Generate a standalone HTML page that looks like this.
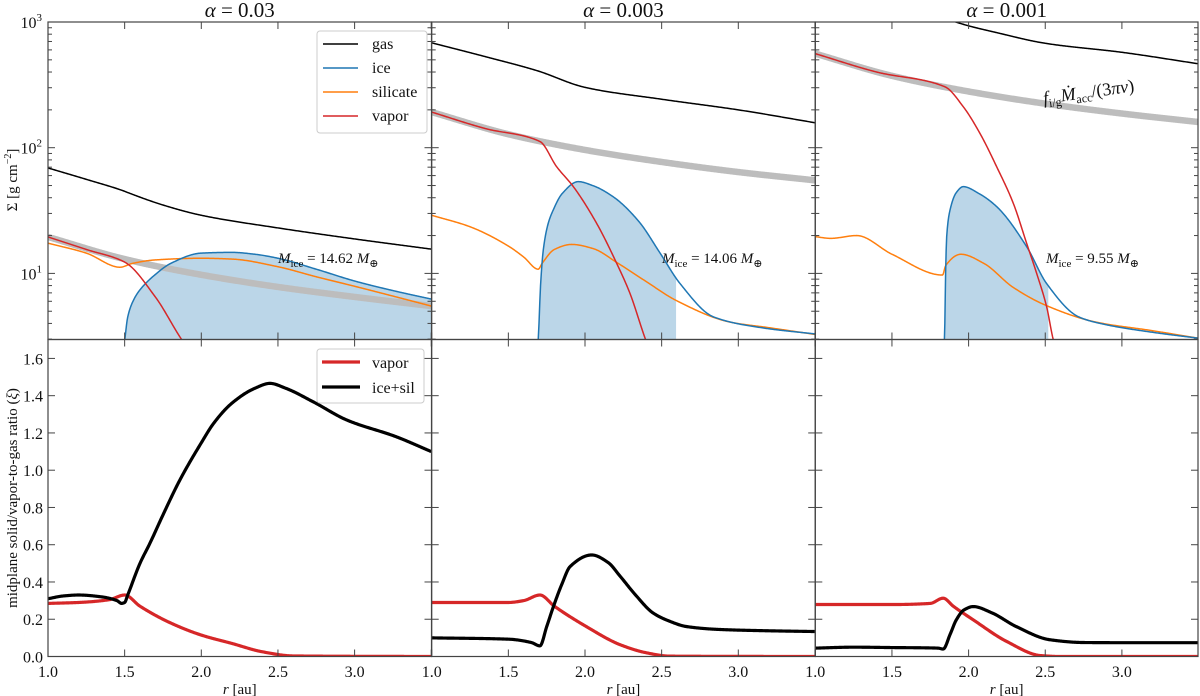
<!DOCTYPE html>
<html><head><meta charset="utf-8"><style>
html,body{margin:0;padding:0;background:#fff;}
svg{display:block;}
svg text{font-family:"Liberation Serif","DejaVu Serif",serif;}
</style></head><body>
<svg id="fig" width="1200" height="696" viewBox="0 0 1200 696" xmlns="http://www.w3.org/2000/svg"></svg>
<script>
// ---------- data ----------
const panelTitles = ["0.03","0.003","0.001"];
const iceMassLabels = ["14.62","14.06","9.55"];
const xTickVals = [1.0,1.5,2.0,2.5,3.0,3.5];
const xTickLabels = ["1.0","1.5","2.0","2.5","3.0"];
const yTickVals = [0,0.2,0.4,0.6,0.8,1.0,1.2,1.4,1.6];
const yTickLabels = ["0.0","0.2","0.4","0.6","0.8","1.0","1.2","1.4","1.6"];

const gasR1 = [1,1.25,1.5,1.52,1.75,2,2.5,3,3.5];
const gasV1 = [69,56,45,44,35,29,23,18.8,15.6];
const gasR2 = [1,1.35,1.707,1.72,2,2.5,3,3.5];
const gasV2 = [683,530,403,398,302,243,200,158];
const gasR3 = [1.8,1.917,2.2,2.5,3.0,3.5];
const gasV3 = [1150,1000,814,677,574,465];

const grayR = [1,1.5,2,2.5,3,3.5];
const grayV1 = [19.5,13,9.75,7.8,6.5,5.5];
const grayV2 = [192,128,96,77,64,55];
const grayV3 = [560,373,280,224,187,160];

const vapR1 = [1,1.25,1.5,1.7,1.87,2.0];
const vapV1 = [19.5,15.5,12.3,6.5,3.0,1.8];
const vapR2 = [1,1.35,1.706,1.815,1.924,2.076,2.207,2.294,2.392,2.45];
const vapV2 = [192,142,112,70.6,49,25,12,6.9,3.05,2.0];
const vapR3 = [1,1.4,1.846,1.965,2.074,2.183,2.292,2.379,2.444,2.509,2.553,2.6];
const vapV3 = [560,400,305,212,130,70.6,36,17.3,10,5.43,2.95,2.0];

const iceR1 = [1.5,1.52,1.56,1.6,1.7,1.8,2.0,2.2,2.35,2.5,2.75,3.0,3.25,3.5];
const iceV1 = [2.9,4.5,6.2,7.4,9.8,12.0,14.5,14.7,14.2,13.2,10.8,8.7,7.3,6.25];
const iceR2 = [1.689,1.695,1.71,1.728,1.76,1.793,1.85,1.956,2.05,2.184,2.35,2.49,2.62,2.84,3.17,3.5];
const iceV2 = [2.5,3,8,15.4,25,32,43,53.7,50,40.7,26,14.5,8.3,4.5,3.67,3.3];
const iceR3 = [1.84,1.845,1.85,1.857,1.879,1.92,1.965,2.07,2.183,2.379,2.509,2.72,2.9,3.2,3.5];
const iceV3 = [2.5,4,10,19.6,32,44,49,43,34,16.3,8.3,4.5,3.9,3.4,3.05];
const iceFillEnd = [3.5,2.594,2.52];

const silR1 = [1,1.25,1.47,1.55,1.7,2.0,2.2,2.5,2.75,3.0,3.25,3.5];
const silV1 = [17.4,14.5,11.2,12.0,12.8,13.2,13.0,11.3,9.4,7.9,6.6,5.5];
const silR2 = [1,1.25,1.5,1.6,1.695,1.72,1.8,1.913,2.05,2.217,2.4,2.594,2.946,3.2,3.5];
const silV2 = [29,23.5,16.5,13.5,10.8,12,15.5,17,15.8,12,8.6,6.1,4.1,3.7,3.27];
const silR3 = [1,1.1,1.27,1.5,1.83,1.85,1.95,2.1,2.287,2.5,2.83,3.2,3.5];
const silV3 = [19.6,19,20,14.2,9.7,11.5,14.2,12,7.8,5.6,4.1,3.5,3.05];

const xiVapR1 = [1,1.2,1.4,1.5,1.6,1.8,2.0,2.2,2.4,2.6,3.5];
const xiVapV1 = [0.285,0.29,0.305,0.33,0.27,0.18,0.115,0.07,0.025,0.003,0];
const xiSolR1 = [1,1.1,1.2,1.35,1.45,1.48,1.5,1.52,1.6,1.665,1.75,1.86,2.0,2.08,2.2,2.35,2.448,2.55,2.73,2.95,3.27,3.5];
const xiSolV1 = [0.31,0.325,0.33,0.32,0.30,0.285,0.29,0.33,0.50,0.608,0.76,0.947,1.147,1.251,1.36,1.44,1.466,1.44,1.367,1.269,1.18,1.10];
const xiVapR2 = [1,1.5,1.6,1.706,1.8,2.01,2.23,2.4,2.55,3.5];
const xiVapV2 = [0.29,0.29,0.30,0.33,0.27,0.16,0.063,0.02,0.002,0];
const xiSolR2 = [1,1.5,1.65,1.706,1.75,1.794,1.85,1.903,2.044,2.15,2.23,2.33,2.445,2.55,2.66,2.88,3.2,3.5];
const xiSolV2 = [0.10,0.093,0.075,0.057,0.16,0.268,0.39,0.483,0.545,0.505,0.43,0.33,0.233,0.19,0.161,0.145,0.138,0.134];
const xiVapR3 = [1,1.5,1.75,1.834,1.9,2.03,2.25,2.47,2.6,3.5];
const xiVapV3 = [0.279,0.279,0.285,0.313,0.27,0.197,0.08,0.005,0,0];
const xiSolR3 = [1,1.25,1.5,1.8,1.834,1.88,1.92,1.97,2.03,2.15,2.31,2.53,2.75,3.1,3.5];
const xiSolV3 = [0.045,0.05,0.048,0.045,0.04,0.12,0.197,0.25,0.268,0.235,0.161,0.09,0.075,0.074,0.074];

// ---------- layout ----------
const NS = "http://www.w3.org/2000/svg";
const svg = document.getElementById('fig');
const panelX = [48, 431.7, 815.3];
const PW = 383.5, PW3 = 382.7;
const topY0 = 22, topY1 = 339.5, botY1 = 656.5;
const DEC = 125.7;
function sx(p, r){ return panelX[p] + (r-1)*153.3; }
function syLog(v){ return topY0 + (3 - Math.log10(v))*DEC; }
function syLin(v){ return botY1 - v*186.3; }

function el(tag, attrs, parent){
  const e = document.createElementNS(NS, tag);
  for (const k in attrs) e.setAttribute(k, attrs[k]);
  (parent||svg).appendChild(e);
  return e;
}
function monotone(xs, ys){
  const n = xs.length, d = [], m = new Array(n);
  for (let i=0;i<n-1;i++) d.push((ys[i+1]-ys[i])/(xs[i+1]-xs[i]));
  m[0]=d[0]; m[n-1]=d[n-2];
  for (let i=1;i<n-1;i++){
    if (d[i-1]*d[i] <= 0) m[i]=0;
    else { const w1=2*(xs[i+1]-xs[i])+(xs[i]-xs[i-1]), w2=(xs[i+1]-xs[i])+2*(xs[i]-xs[i-1]); m[i]=(w1+w2)/(w1/d[i-1]+w2/d[i]); }
  }
  const out=[];
  for (let i=0;i<n-1;i++){
    const h=xs[i+1]-xs[i], N=Math.max(2,Math.ceil(h*200));
    for (let k=(i===0?0:1);k<=N;k++){
      const t=k/N, t2=t*t, t3=t2*t;
      const y=(2*t3-3*t2+1)*ys[i]+(t3-2*t2+t)*h*m[i]+(-2*t3+3*t2)*ys[i+1]+(t3-t2)*h*m[i+1];
      out.push([xs[i]+t*h,y]);
    }
  }
  return out;
}
function curveLog(p, rs, vs){
  return monotone(rs, vs.map(v=>Math.log10(v))).map(([r,l])=>[sx(p,r), topY0+(3-l)*DEC]);
}
function curveLin(p, rs, vs){
  return monotone(rs, vs).map(([r,v])=>[sx(p,r), syLin(v)]);
}
function polyD(pts){ return 'M'+pts.map(q=>q[0].toFixed(2)+','+q[1].toFixed(2)).join('L'); }

const defs = el('defs', {});
for (let p=0;p<3;p++){
  const w = p===2?PW3:PW;
  const c1 = el('clipPath',{id:'ct'+p},defs); el('rect',{x:panelX[p],y:topY0,width:w,height:topY1-topY0},c1);
  const c2 = el('clipPath',{id:'cb'+p},defs); el('rect',{x:panelX[p],y:topY1,width:w,height:botY1-topY1},c2);
  const c3 = el('clipPath',{id:'cf'+p},defs); el('rect',{x:panelX[p],y:topY0,width:sx(p,iceFillEnd[p])-panelX[p],height:topY1-topY0},c3);
}

const gasR=[gasR1,gasR2,gasR3], gasV=[gasV1,gasV2,gasV3];
const grayV=[grayV1,grayV2,grayV3];
const vapR=[vapR1,vapR2,vapR3], vapV=[vapV1,vapV2,vapV3];
const iceR=[iceR1,iceR2,iceR3], iceV=[iceV1,iceV2,iceV3];
const silR=[silR1,silR2,silR3], silV=[silV1,silV2,silV3];
const xvR=[xiVapR1,xiVapR2,xiVapR3], xvV=[xiVapV1,xiVapV2,xiVapV3];
const xsR=[xiSolR1,xiSolR2,xiSolR3], xsV=[xiSolV1,xiSolV2,xiSolV3];

for (let p=0;p<3;p++){
  const w = p===2?PW3:PW;
  const gT = el('g',{'clip-path':`url(#ct${p})`});
  
  
  const ipts = curveLog(p, iceR[p], iceV[p]);
  const fd = polyD(ipts) + `L${ipts[ipts.length-1][0]},${topY1+5}L${ipts[0][0]},${topY1+5}Z`;
  const fill = el('path',{d:fd,fill:'#1f77b4','fill-opacity':0.3,stroke:'none','clip-path':`url(#cf${p})`},gT);
  
  
  const gr = el('path',{d:polyD(curveLog(p,grayR,grayV[p])),fill:'none',stroke:'#bdbdbd','stroke-width':6.5},gT);
  
  
  const series = [[gasR[p],gasV[p],'#000','gas-line'],[silR[p],silV[p],'#ff7f0e','silicate-line'],[iceR[p],iceV[p],'#1f77b4','ice-line'],[vapR[p],vapV[p],'#d62728','vapor-line']];
  for (const s of series){
    const ln = el('path',{d:polyD(curveLog(p,s[0],s[1])),fill:'none',stroke:s[2],'stroke-width':1.5,'stroke-linejoin':'round'},gT);
    
    
  }
  const gB = el('g',{'clip-path':`url(#cb${p})`});
  
  
  const l1 = el('path',{d:polyD(curveLin(p,xvR[p],xvV[p])),fill:'none',stroke:'#d62728','stroke-width':3.2,'stroke-linejoin':'round'},gB);
  
  
  const l2 = el('path',{d:polyD(curveLin(p,xsR[p],xsV[p])),fill:'none',stroke:'#000','stroke-width':3.2,'stroke-linejoin':'round'},gB);
  
  

  const f1 = el('rect',{x:panelX[p],y:topY0,width:w,height:topY1-topY0,fill:'none',stroke:'#444','stroke-width':1.2});
  
  
  const f2 = el('rect',{x:panelX[p],y:topY1,width:w,height:botY1-topY1,fill:'none',stroke:'#444','stroke-width':1.2});
  
  

  for (const xv of xTickVals){
    const x = sx(p,xv); if (x>panelX[p]+w+0.5) continue;
    for (const [y,dir] of [[topY0,1],[topY1,-1],[topY1,1],[botY1,-1]]){
      el('line',{x1:x,x2:x,y1:y,y2:y+dir*7,stroke:'#444','stroke-width':1});
    }
  }
  xTickLabels.forEach((t,i)=>{
    const tx = el('text',{x:sx(p,xTickVals[i]),y:677,'font-size':16,'text-anchor':'middle',fill:'#111'});
    tx.textContent = t;
    
    
  });
  const xl = el('text',{x:panelX[p]+w/2,y:694,'font-size':15,'text-anchor':'middle',fill:'#111'});
  xl.innerHTML = '<tspan font-style="italic">r</tspan> [au]';
  
  
  for (const side of [0,1]){
    const x0 = side? panelX[p]+w : panelX[p], dir = side? -1: 1;
    for (let e=0;e<3;e++) for (let m=1;m<10;m++){
      const v = m*Math.pow(10,e); if (v<3) continue;
      const y = syLog(v); if (y<topY0-0.5) continue;
      el('line',{x1:x0,x2:x0+dir*(m===1?7:4),y1:y,y2:y,stroke:'#444','stroke-width':1});
    }
    el('line',{x1:x0,x2:x0+dir*7,y1:topY0,y2:topY0,stroke:'#444','stroke-width':1});
    for (const v of yTickVals){ const y=syLin(v); el('line',{x1:x0,x2:x0+dir*7,y1:y,y2:y,stroke:'#444','stroke-width':1}); }
  }
  const tt = el('text',{x:panelX[p]+w/2,y:17,'font-size':21,'text-anchor':'middle',fill:'#111','font-family':'Liberation Serif, serif'});
  tt.innerHTML = '<tspan font-style="italic">α</tspan> = ' + panelTitles[p];
  
  
  const ml = el('text',{x:[278,662,1046][p],y:263,'font-size':15,fill:'#111'});
  ml.innerHTML = '<tspan font-style="italic">M</tspan><tspan font-size="11" dy="4">ice</tspan><tspan dy="-4"> = '+iceMassLabels[p]+' </tspan><tspan font-style="italic">M</tspan><tspan font-size="11" dy="4">⊕</tspan>';
  
  
}
[[1000,'3'],[100,'2'],[10,'1']].forEach(([v,e])=>{
  const t = el('text',{x:42,y:syLog(v)+6,'font-size':16,'text-anchor':'end',fill:'#111'});
  t.innerHTML = '10<tspan font-size="11" dy="-7">'+e+'</tspan>';
  
  
});
yTickLabels.forEach((s,i)=>{
  const t = el('text',{x:43,y:syLin(yTickVals[i])+6,'font-size':16,'text-anchor':'end',fill:'#111'});
  t.textContent = s;
  
  
});
const yl1 = el('text',{x:0,y:0,'font-size':15,'text-anchor':'middle',fill:'#111',transform:'translate(17,180) rotate(-90)'});
yl1.innerHTML = 'Σ [g cm<tspan font-size="10" dy="-6">−2</tspan><tspan dy="6">]</tspan>';


const yl2 = el('text',{x:0,y:0,'font-size':15,'text-anchor':'middle',fill:'#111',transform:'translate(17,498) rotate(-90)'});
yl2.innerHTML = 'midplane solid/vapor-to-gas ratio (<tspan font-style="italic">ξ</tspan>)';


const ga = el('text',{x:0,y:0,'font-size':18,fill:'#111',transform:'translate(1044,104) rotate(-8)'});
ga.innerHTML = '<tspan font-style="italic">f</tspan><tspan font-size="12" dy="4">i/g</tspan><tspan dy="-4" font-style="italic">Ṁ</tspan><tspan font-size="12" dy="4">acc</tspan><tspan dy="-4">/(3</tspan><tspan font-style="italic">πν</tspan>)';


const lg1 = el('g',{});


el('rect',{x:317,y:31,width:110,height:102,rx:3,fill:'#fff',stroke:'#ccc','stroke-width':1},lg1);
[['gas','#000'],['ice','#1f77b4'],['silicate','#ff7f0e'],['vapor','#d62728']].forEach(([n,c],i)=>{
  const y = 44 + i*24;
  const ln = el('line',{x1:323,x2:358,y1:y,y2:y,stroke:c,'stroke-width':1.5},lg1);
  
  
  const t = el('text',{x:372,y:y+5,'font-size':16,fill:'#111'},lg1);
  t.textContent = n;
  
  
});
const lg2 = el('g',{});


el('rect',{x:317,y:349,width:107,height:54,rx:3,fill:'#fff',stroke:'#ccc','stroke-width':1},lg2);
[['vapor','#d62728'],['ice+sil','#000']].forEach(([n,c],i)=>{
  const y = 362 + i*25;
  const ln = el('line',{x1:322,x2:360,y1:y,y2:y,stroke:c,'stroke-width':3.2},lg2);
  
  
  const t = el('text',{x:372,y:y+6,'font-size':16,fill:'#111'},lg2);
  t.textContent = n;
  
  
});
</script>
</body></html>
